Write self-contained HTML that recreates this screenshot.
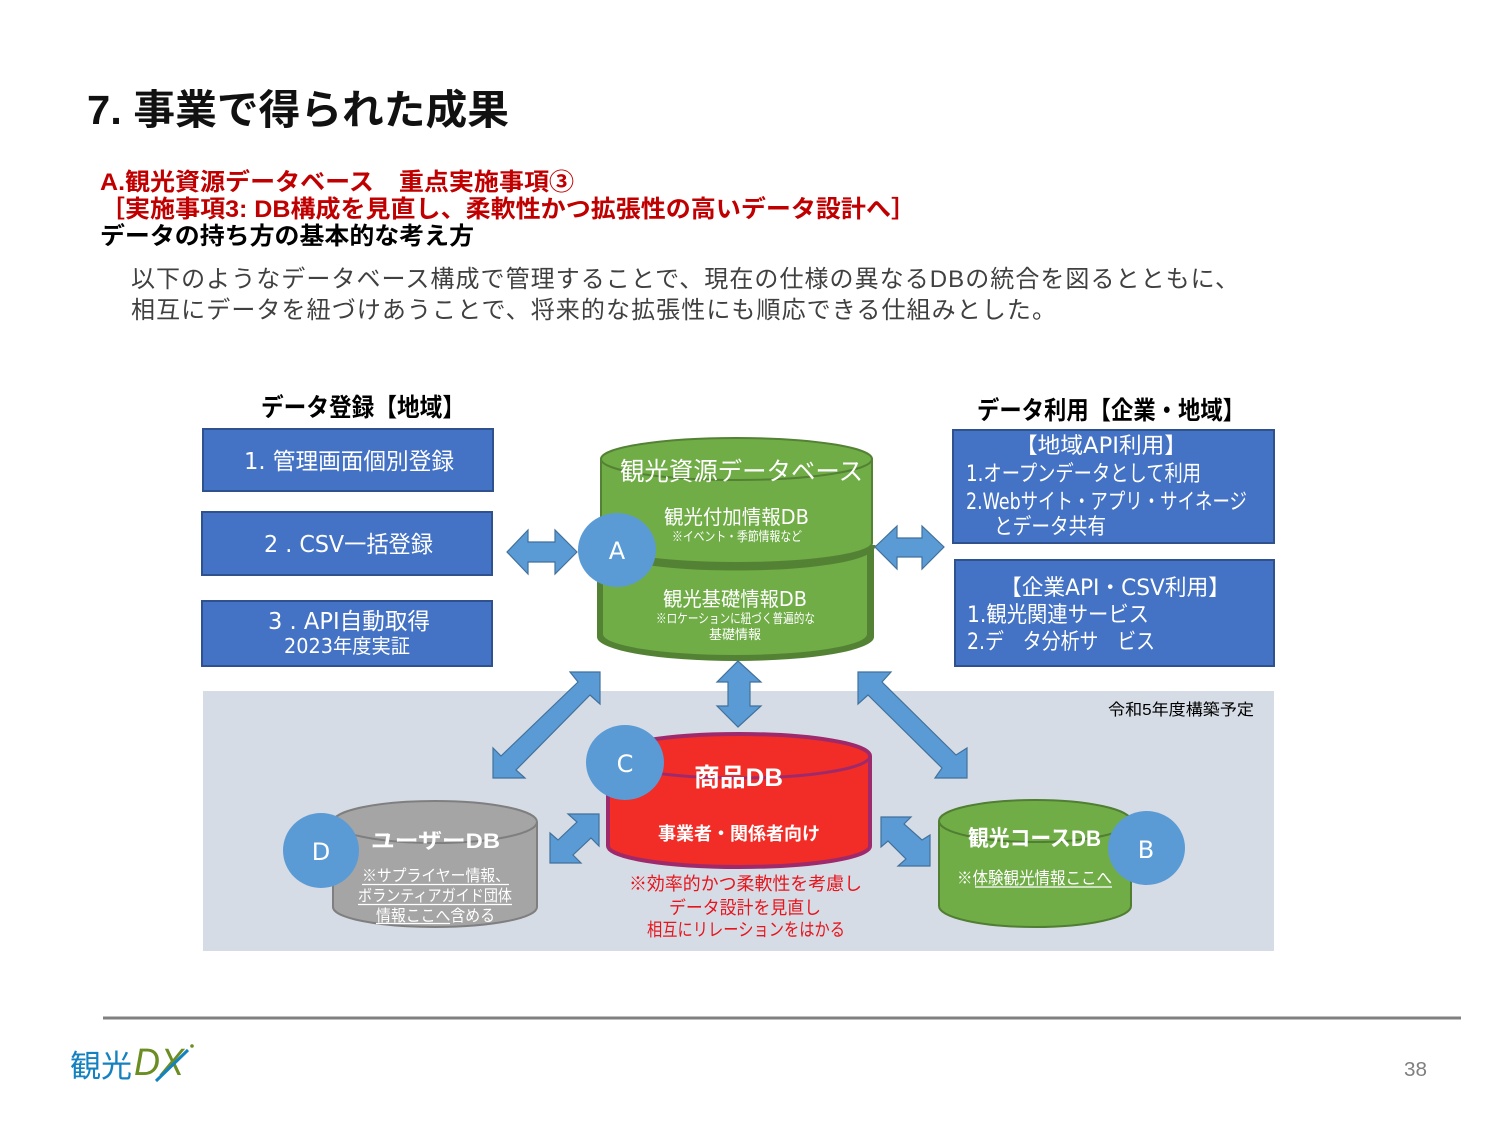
<!DOCTYPE html>
<html lang="ja">
<head>
<meta charset="utf-8">
<title>7. 事業で得られた成果</title>
<style>
html,body{margin:0;padding:0;background:#fff;}
svg{display:block;}
text{font-family:"Liberation Sans","Noto Sans CJK JP",sans-serif;}
text.d{font-family:"DejaVu Sans","Noto Sans CJK JP",sans-serif;}
.w{fill:#fff;}
.b{font-weight:bold;}
</style>
</head>
<body>
<svg width="1500" height="1125" viewBox="0 0 1500 1125" xmlns="http://www.w3.org/2000/svg">
<rect width="1500" height="1125" fill="#fff"/>

<!-- headings -->
<text x="87" y="124" font-size="41" class="b" fill="#111" textLength="422" lengthAdjust="spacingAndGlyphs">7. 事業で得られた成果</text>
<text x="100" y="190" font-size="24" class="b" fill="#C00000" textLength="474" lengthAdjust="spacingAndGlyphs">A.観光資源データベース　重点実施事項③</text>
<text x="100" y="217" font-size="24" class="b" fill="#C00000" textLength="816" lengthAdjust="spacingAndGlyphs">［実施事項3: DB構成を見直し、柔軟性かつ拡張性の高いデータ設計へ］</text>
<text x="100" y="244" font-size="24" class="b" fill="#000" textLength="374" lengthAdjust="spacingAndGlyphs">データの持ち方の基本的な考え方</text>
<text x="131" y="287" font-size="24" fill="#404040" textLength="1108" lengthAdjust="spacing">以下のようなデータベース構成で管理することで、現在の仕様の異なるDBの統合を図るとともに、</text>
<text x="131" y="318" font-size="24" fill="#404040" textLength="925" lengthAdjust="spacing">相互にデータを紐づけあうことで、将来的な拡張性にも順応できる仕組みとした。</text>

<!-- panel -->
<rect x="203" y="691" width="1071" height="260" fill="#D6DCE5"/>
<text x="1108" y="715" font-size="16" fill="#000" textLength="146" lengthAdjust="spacingAndGlyphs">令和5年度構築予定</text>

<!-- section titles -->
<text x="261" y="416" font-size="25" class="b" fill="#000" textLength="204" lengthAdjust="spacingAndGlyphs">データ登録【地域】</text>
<text x="977" y="419" font-size="25" class="b" fill="#000" textLength="268" lengthAdjust="spacingAndGlyphs">データ利用【企業・地域】</text>

<!-- boxes -->
<g fill="#4472C4" stroke="#2F528F" stroke-width="2">
<rect x="203" y="429" width="290" height="62"/>
<rect x="202" y="512" width="290" height="63"/>
<rect x="202" y="601" width="290" height="65"/>
<rect x="953" y="430" width="321" height="113"/>
<rect x="955" y="560" width="319" height="106"/>
</g>
<text x="244" y="469" font-size="23" class="w d" textLength="210" lengthAdjust="spacingAndGlyphs">1. 管理画面個別登録</text>
<text x="264" y="552" font-size="23" class="w d" textLength="169" lengthAdjust="spacingAndGlyphs">2 . CSV一括登録</text>
<text x="268" y="629" font-size="23" class="w d" textLength="162" lengthAdjust="spacingAndGlyphs">3 . API自動取得</text>
<text x="284" y="653" font-size="20" class="w d" textLength="126" lengthAdjust="spacingAndGlyphs">2023年度実証</text>

<!-- right box text -->
<text x="1015" y="453" font-size="22" class="w d" textLength="172" lengthAdjust="spacingAndGlyphs">【地域API利用】</text>
<text x="966" y="481" font-size="22" class="w d" textLength="235" lengthAdjust="spacingAndGlyphs">1.オープンデータとして利用</text>
<text x="966" y="509" font-size="22" class="w d" textLength="281" lengthAdjust="spacingAndGlyphs">2.Webサイト・アプリ・サイネージ</text>
<text x="994" y="534" font-size="22" class="w" textLength="112" lengthAdjust="spacingAndGlyphs">とデータ共有</text>
<text x="1000" y="595" font-size="22" class="w d" textLength="230" lengthAdjust="spacingAndGlyphs">【企業API・CSV利用】</text>
<text x="967" y="622" font-size="22" class="w d" textLength="182" lengthAdjust="spacingAndGlyphs">1.観光関連サービス</text>
<text x="967" y="649" font-size="22" class="w d" textLength="188" lengthAdjust="spacingAndGlyphs">2.デ　タ分析サ　ビス</text>

<!-- main cylinder lower -->
<path d="M597 546 L597 637 A138.5 24 0 0 0 874 637 L874 546 Z" fill="#548235"/>
<path d="M603 552 L603 634 A132 21 0 0 0 867 634 L867 552 Z" fill="#70AD47"/>
<!-- dark crescent under upper section -->
<path d="M601 545 A135.5 22 0 0 0 872 545" fill="none" stroke="#548235" stroke-width="7"/>
<!-- main cylinder upper -->
<path d="M601 459 A135.5 21 0 0 1 872 459 L872 543 A135.5 20 0 0 1 601 543 Z" fill="#70AD47" stroke="#548235" stroke-width="2"/>
<path d="M601 459 A135.5 21 0 0 0 872 459" fill="none" stroke="#548235" stroke-width="2"/>
<text x="620" y="480" font-size="25" class="w" textLength="243" lengthAdjust="spacingAndGlyphs">観光資源データベース</text>
<text x="664" y="524" font-size="20" class="w d" textLength="145" lengthAdjust="spacingAndGlyphs">観光付加情報DB</text>
<text x="672" y="541" font-size="13" class="w" textLength="130" lengthAdjust="spacingAndGlyphs">※イベント・季節情報など</text>
<text x="663" y="606" font-size="20" class="w d" textLength="144" lengthAdjust="spacingAndGlyphs">観光基礎情報DB</text>
<text x="656" y="623" font-size="13" class="w" textLength="159" lengthAdjust="spacingAndGlyphs">※ロケーションに紐づく普遍的な</text>
<text x="709" y="639" font-size="13" class="w" textLength="52" lengthAdjust="spacingAndGlyphs">基礎情報</text>

<!-- arrows -->
<g fill="#5B9BD5" stroke="#41719C" stroke-width="1.2" stroke-linejoin="miter">
<polygon points="507,552 528,530 528,542 555,542 555,530 577,552 555,574 555,562 528,562 528,574"/>
<polygon points="875,547 897,526 897,538 922,538 922,526 944,547 922,569 922,557 897,557 897,569"/>
<polygon points="738,661 761,682 750,682 750,706 761,706 738,727 717,706 728,706 728,682 717,682"/>
<polygon points="600,672 600,704 590,695 516,770 525,778 493,778 493,748 501,756 578,682 570,672"/>
<polygon points="858,672 891,672 882,682 956,755 967,748 967,778 935,778 942,768 868,695 858,704"/>
<polygon points="599,814 599,846 591,838 573,855 581,863 550,863 550,833 558,840 577,822 568,814"/>
<polygon points="881,817 911,817 904,824 922,840 930,835 930,866 898,866 906,859 888,841 881,847"/>
</g>

<!-- red cylinder -->
<path d="M608 756 A131 22 0 0 1 870 756 L870 846 A131 21 0 0 1 608 846 Z" fill="#F22C26" stroke="#9E2A6C" stroke-width="4"/>
<path d="M608 756 A131 22 0 0 0 870 756" fill="none" stroke="#9E2A6C" stroke-width="3"/>
<text x="694" y="786" font-size="25" class="w b" textLength="89" lengthAdjust="spacingAndGlyphs">商品DB</text>
<text x="658" y="840" font-size="18" class="w b" textLength="162" lengthAdjust="spacingAndGlyphs">事業者・関係者向け</text>
<g font-size="18" fill="#E8141C">
<text x="629" y="890" textLength="233" lengthAdjust="spacingAndGlyphs">※効率的かつ柔軟性を考慮し</text>
<text x="669" y="914" textLength="152" lengthAdjust="spacingAndGlyphs">データ設計を見直し</text>
<text x="647" y="936" textLength="198" lengthAdjust="spacingAndGlyphs">相互にリレーションをはかる</text>
</g>

<!-- gray cylinder -->
<path d="M333 822 A102 21 0 0 1 537 822 L537 907 A102 20 0 0 1 333 907 Z" fill="#A5A5A5" stroke="#7F7F7F" stroke-width="2"/>
<path d="M333 822 A102 21 0 0 0 537 822" fill="none" stroke="#7F7F7F" stroke-width="2"/>
<text x="371" y="848" font-size="21" class="w b" textLength="129" lengthAdjust="spacingAndGlyphs">ユーザーDB</text>
<text x="362" y="881" font-size="16" class="w" textLength="148" lengthAdjust="spacingAndGlyphs">※サプライヤー情報、</text>
<text x="358" y="901" font-size="16" class="w" textLength="154" lengthAdjust="spacingAndGlyphs">ボランティアガイド団体</text>
<text x="376" y="921" font-size="16" class="w" textLength="119" lengthAdjust="spacingAndGlyphs">情報ここへ含める</text>
<g stroke="#fff" stroke-width="1.2">
<line x1="362" y1="884.5" x2="509" y2="884.5"/>
<line x1="358" y1="904.5" x2="512" y2="904.5"/>
<line x1="376" y1="923.5" x2="450" y2="923.5"/>
</g>

<!-- green small cylinder -->
<path d="M939 821 A96 21 0 0 1 1131 821 L1131 906 A96 21 0 0 1 939 906 Z" fill="#70AD47" stroke="#507E32" stroke-width="2"/>
<path d="M939 821 A96 21 0 0 0 1131 821" fill="none" stroke="#507E32" stroke-width="2"/>
<text x="968" y="846" font-size="22" class="w b" textLength="133" lengthAdjust="spacingAndGlyphs">観光コースDB</text>
<text x="957" y="884" font-size="17" class="w" textLength="155" lengthAdjust="spacingAndGlyphs">※体験観光情報ここへ</text>
<line x1="975" y1="887" x2="1112" y2="887" stroke="#fff" stroke-width="1.2"/>

<!-- circles -->
<g fill="#5B9BD5">
<ellipse cx="617" cy="550" rx="39" ry="37"/>
<ellipse cx="625" cy="762.5" rx="39" ry="37.5"/>
<ellipse cx="321" cy="850.5" rx="38" ry="37.5"/>
<ellipse cx="1146.5" cy="848" rx="38.5" ry="37"/>
</g>
<g font-size="24" class="w" text-anchor="middle">
<text x="617" y="559" class="d">A</text>
<text x="625" y="772" class="d">C</text>
<text x="321" y="860" class="d">D</text>
<text x="1146" y="858" class="d">B</text>
</g>

<!-- footer -->
<line x1="103" y1="1018" x2="1461" y2="1018" stroke="#808080" stroke-width="3"/>
<text x="1404" y="1076" font-size="20" fill="#7F7F7F" textLength="23" lengthAdjust="spacingAndGlyphs">38</text>

<!-- logo -->
<text x="70" y="1077" font-size="31" fill="#1482C0" textLength="62" lengthAdjust="spacingAndGlyphs">観光</text>
<text x="134" y="1075" font-size="38" fill="#6B8E23" font-style="italic" textLength="50" lengthAdjust="spacingAndGlyphs" style="font-weight:normal">DX</text>
<line x1="156" y1="1081" x2="188" y2="1050" stroke="#1482C0" stroke-width="3"/>
<circle cx="192" cy="1046" r="1.8" fill="#6B8E23"/>
</svg>
</body>
</html>
